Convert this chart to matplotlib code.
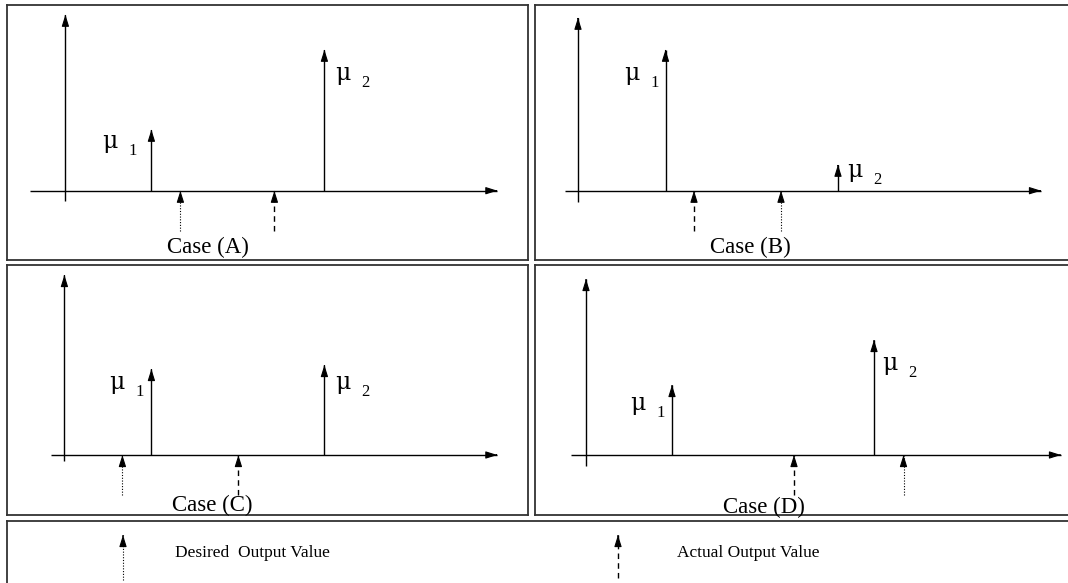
import matplotlib.pyplot as plt
from matplotlib import font_manager

plt.rcParams['font.family'] = ['Liberation Serif', 'DejaVu Serif']

W, H = 1068, 583

# impulse positions / heights per case, measured from each panel's origin
cases = ['A', 'B', 'C', 'D']
mu1_pos = [86, 87.5, 87, 86]
mu1_height = [61, 141, 86, 70]
mu2_pos = [259, 260, 260, 288]
mu2_height = [141, 26, 90, 115]
desired_pos = [115, 203, 58, 317.5]
actual_pos = [209, 116, 174, 208]

legend_labels = ['Desired  Output Value', 'Actual Output Value']

# panel frames (left, top, right, bottom) and axis origins, in figure pixels
boxes = [(7, 5, 528, 260), (535, 5, 1070, 260),
         (7, 265, 528, 515), (535, 265, 1070, 515)]
origins = [(65.4, 190.7), (578, 190.7), (64.4, 455), (586, 455)]
yaxis_span = [(-10, 176), (-11, 173), (-6, 180), (-11, 176)]
xaxis_span = [(-35, 432), (-13, 463), (-13, 433), (-15, 475)]
mu1_text = [(37, 43), (46, 111), (45, 66), (44, 45)]
mu2_text = [(270, 111), (269, 14), (271, 66), (296, 85)]
case_text = [(143, -57), (172, -57), (148, -50), (178, -52)]
below = 40  # length of the output markers under the axis

DOTTED = (0, (1, 1.5))
DASHED = (0, (4, 3))

installed = {f.name for f in font_manager.fontManager.ttflist}
if 'Liberation Sans Narrow' in installed:
    legend_font, legend_size = 'Liberation Sans Narrow', 14
else:
    legend_font, legend_size = 'Liberation Serif', 12.5


def arrow(ax, x0, y0, x1, y1, ls='-', lw=1.0):
    # shaft as a plain line, filled head added on top
    ax.plot([x0, x1], [y0, y1], color='black', lw=lw, ls=ls,
            solid_capstyle='butt')
    dx, dy = x1 - x0, y1 - y0
    n = (dx ** 2 + dy ** 2) ** 0.5
    ax.annotate('', xy=(x1, y1), xytext=(x1 - dx / n, y1 - dy / n),
                arrowprops=dict(arrowstyle='-|>,head_length=7,head_width=2.2',
                                mutation_scale=1, color='black', lw=0.8,
                                shrinkA=0, shrinkB=0))


def frame(ax):
    ax.set_xticks([])
    ax.set_yticks([])
    for s in ax.spines.values():
        s.set_linewidth(1.3)
        s.set_color('#333333')


fig = plt.figure(figsize=(W / 100, H / 100), dpi=100)

for i, case in enumerate(cases):
    l, t, r, b = boxes[i]
    ox, oy = origins[i]
    ax = fig.add_axes([l / W, 1 - b / H, (r - l) / W, (b - t) / H])
    ax.set_xlim(l - ox, r - ox)
    ax.set_ylim(oy - b, oy - t)
    frame(ax)

    # coordinate axes
    arrow(ax, 0, yaxis_span[i][0], 0, yaxis_span[i][1])
    arrow(ax, xaxis_span[i][0], 0, xaxis_span[i][1], 0)

    # the two impulses
    arrow(ax, mu1_pos[i], 0, mu1_pos[i], mu1_height[i])
    arrow(ax, mu2_pos[i], 0, mu2_pos[i], mu2_height[i])

    # desired (dotted) and actual (dashed) outputs
    arrow(ax, desired_pos[i], -below, desired_pos[i], 0, ls=DOTTED, lw=0.8)
    arrow(ax, actual_pos[i], -below, actual_pos[i], 0, ls=DASHED, lw=1.0)

    for k, (tx, ty) in enumerate([mu1_text[i], mu2_text[i]]):
        ax.text(tx, ty, 'μ', family='DejaVu Serif', fontsize=17,
                ha='left', va='baseline')
        ax.text(tx + 26, ty - 7, str(k + 1), fontsize=12,
                ha='left', va='baseline')

    ax.text(*case_text[i], f'Case ({case})', fontsize=16.5,
            ha='center', va='center')

# legend strip
l, t, r, b = 7, 521, 1075, 590
lax = fig.add_axes([l / W, 1 - b / H, (r - l) / W, (b - t) / H])
lax.set_xlim(l, r)
lax.set_ylim(b, t)
frame(lax)
arrow(lax, 123, 580, 123, 535, ls=DOTTED, lw=0.8)
lax.text(175, 553, legend_labels[0], family=legend_font, fontsize=legend_size,
         ha='left', va='center')
arrow(lax, 618, 578, 618, 535, ls=DASHED, lw=1.0)
lax.text(677, 553, legend_labels[1], family=legend_font, fontsize=legend_size,
         ha='left', va='center')

fig.savefig('out.png', dpi=100)
